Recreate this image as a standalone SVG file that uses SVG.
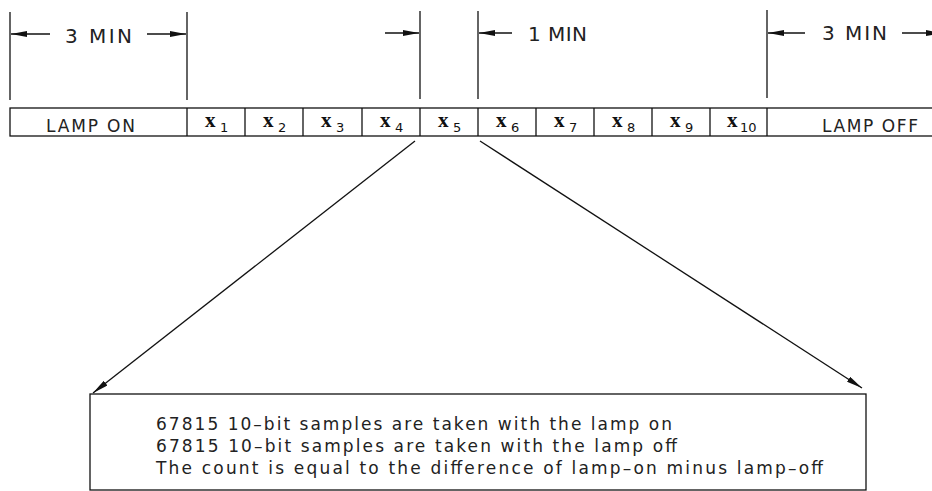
<svg xmlns="http://www.w3.org/2000/svg" width="932" height="491" viewBox="0 0 932 491">
<style>
.ln{stroke:#111;stroke-width:1.3;fill:none}
.t{font-family:"DejaVu Sans","Liberation Sans",sans-serif;fill:#222}
.xs{font-family:"Liberation Serif",serif;font-size:21px;font-weight:bold;fill:#111}
.sub{font-family:"DejaVu Sans","Liberation Sans",sans-serif;font-size:13px;fill:#111}
</style>
<defs>
<marker id="ah" viewBox="0 0 16 6" refX="16" refY="3" markerWidth="16" markerHeight="6" orient="auto" markerUnits="userSpaceOnUse">
<path d="M0,0 L16,3 L0,6 z" fill="#111"/>
</marker>
</defs>
<rect width="932" height="491" fill="#fff"/>
<g id="dimensions">
<line class="ln" x1="10" y1="12" x2="10" y2="100"/>
<line class="ln" x1="187" y1="12" x2="187" y2="100"/>
<line class="ln" x1="420" y1="11" x2="420" y2="99"/>
<line class="ln" x1="478" y1="11" x2="478" y2="99"/>
<line class="ln" x1="767" y1="10" x2="767" y2="98"/>
<line class="ln" x1="50" y1="34" x2="11" y2="34" marker-end="url(#ah)"/>
<line class="ln" x1="147" y1="34" x2="186" y2="34" marker-end="url(#ah)"/>
<line class="ln" x1="385" y1="33" x2="419" y2="33" marker-end="url(#ah)"/>
<line class="ln" x1="512" y1="33" x2="479" y2="33" marker-end="url(#ah)"/>
<line class="ln" x1="805" y1="33" x2="768" y2="33" marker-end="url(#ah)"/>
<line class="ln" x1="902" y1="33" x2="942" y2="33" marker-end="url(#ah)"/>
<text class="t" x="65" y="43" font-size="20" textLength="67" lengthAdjust="spacing">3 MIN</text>
<text class="t" x="528" y="41" font-size="20" textLength="59" lengthAdjust="spacing">1 MIN</text>
<text class="t" x="822" y="40" font-size="20" textLength="65" lengthAdjust="spacing">3 MIN</text>
</g>
<g id="bar">
<rect class="ln" x="10" y="108" width="930" height="28"/>
<line class="ln" x1="187" y1="108" x2="187" y2="136"/>
<line class="ln" x1="245" y1="108" x2="245" y2="136"/>
<line class="ln" x1="303" y1="108" x2="303" y2="136"/>
<line class="ln" x1="362" y1="108" x2="362" y2="136"/>
<line class="ln" x1="420" y1="108" x2="420" y2="136"/>
<line class="ln" x1="478" y1="108" x2="478" y2="136"/>
<line class="ln" x1="536" y1="108" x2="536" y2="136"/>
<line class="ln" x1="594" y1="108" x2="594" y2="136"/>
<line class="ln" x1="652" y1="108" x2="652" y2="136"/>
<line class="ln" x1="710" y1="108" x2="710" y2="136"/>
<line class="ln" x1="767" y1="108" x2="767" y2="136"/>
<text class="t" x="46" y="132" font-size="17" textLength="89" lengthAdjust="spacing">LAMP ON</text>
<text class="t" x="822" y="132" font-size="17" textLength="96" lengthAdjust="spacing">LAMP OFF</text>
<g id="x1"><text class="xs" x="205" y="127">x</text><text class="sub" x="220" y="132">1</text></g>
<g id="x2"><text class="xs" x="263" y="127">x</text><text class="sub" x="278" y="132">2</text></g>
<g id="x3"><text class="xs" x="321" y="127">x</text><text class="sub" x="336" y="132">3</text></g>
<g id="x4"><text class="xs" x="380" y="127">x</text><text class="sub" x="395" y="132">4</text></g>
<g id="x5"><text class="xs" x="438" y="127">x</text><text class="sub" x="453" y="132">5</text></g>
<g id="x6"><text class="xs" x="496" y="127">x</text><text class="sub" x="511" y="132">6</text></g>
<g id="x7"><text class="xs" x="554" y="127">x</text><text class="sub" x="569" y="132">7</text></g>
<g id="x8"><text class="xs" x="612" y="127">x</text><text class="sub" x="627" y="132">8</text></g>
<g id="x9"><text class="xs" x="670" y="127">x</text><text class="sub" x="685" y="132">9</text></g>
<g id="x10"><text class="xs" x="727" y="127">x</text><text class="sub" x="740" y="132">10</text></g>
</g>
<g id="connectors">
<line class="ln" x1="415" y1="141" x2="93" y2="393" marker-end="url(#ah)"/>
<line class="ln" x1="480" y1="141" x2="862" y2="388" marker-end="url(#ah)"/>
</g>
<g id="notebox">
<rect class="ln" x="90" y="394" width="776" height="96"/>
<text class="t" x="156" y="430" font-size="17" textLength="516" lengthAdjust="spacing">67815 10–bit samples are taken with the lamp on</text>
<text class="t" x="156" y="452" font-size="17" textLength="521" lengthAdjust="spacing">67815 10–bit samples are taken with the lamp off</text>
<text class="t" x="156" y="474" font-size="17" textLength="667" lengthAdjust="spacing">The count is equal to the difference of lamp–on minus lamp–off</text>
</g>
</svg>
